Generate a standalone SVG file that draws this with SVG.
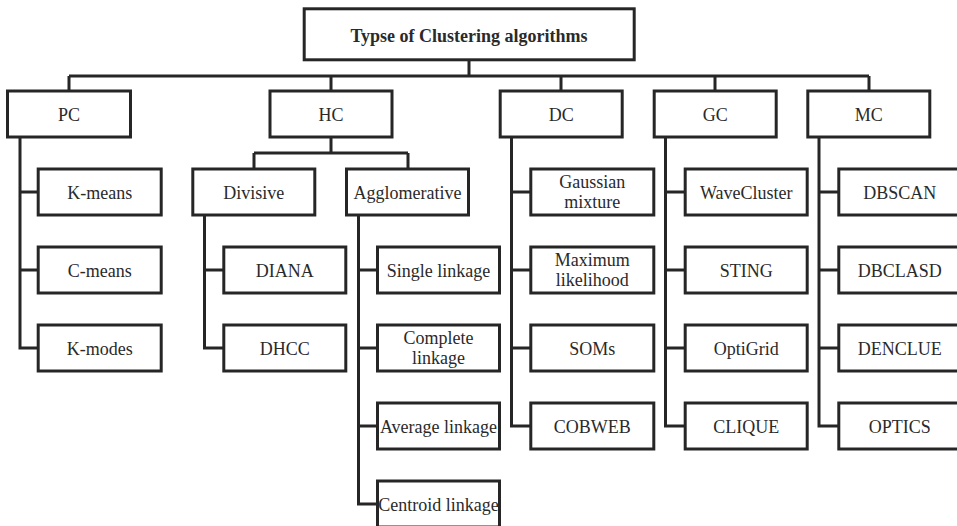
<svg xmlns="http://www.w3.org/2000/svg" width="957" height="526" viewBox="0 0 957 526">
<style>
.b{fill:#fff;stroke:#262626;stroke-width:3}
.c{fill:none;stroke:#262626;stroke-width:3}
text{font-family:"Liberation Serif","Times New Roman",serif;font-size:18px;fill:#2a2a2a;text-anchor:middle}
.t{font-weight:bold}
</style>
<rect width="957" height="526" fill="#fff"/>
<g id="connectors" class="c">
<path d="M469,61 V76 M69,76 H869 M69,76 V90 M331,76 V90 M561,76 V90 M715,76 V90 M869,76 V90"/>
<path d="M20,138 V348 H38 M20,192 H38 M20,270 H38"/>
<path d="M331,138 V153 M254,153 H408 M254,153 V169 M408,153 V169"/>
<path d="M204.5,216 V348 H224 M204.5,270 H224"/>
<path d="M358.5,216 V504 H378 M358.5,270 H378 M358.5,348 H378 M358.5,426 H378"/>
<path d="M511.5,138 V426 H531 M511.5,192 H531 M511.5,270 H531 M511.5,348 H531"/>
<path d="M665.5,138 V426 H685 M665.5,192 H685 M665.5,270 H685 M665.5,348 H685"/>
<path d="M819,138 V426 H839 M819,192 H839 M819,270 H839 M819,348 H839"/>
</g>
<g id="root"><rect class="b" x="304.2" y="8.8" width="330" height="51"/><text class="t" x="469" y="41.5">Typse of Clustering algorithms</text></g>
<g id="pc"><rect class="b" x="7.5" y="91" width="123" height="46"/><text x="69" y="120.5">PC</text></g>
<g id="hc"><rect class="b" x="270" y="91" width="122" height="46"/><text x="331" y="120.5">HC</text></g>
<g id="dc"><rect class="b" x="500.2" y="91" width="122" height="46"/><text x="561.2" y="120.5">DC</text></g>
<g id="gc"><rect class="b" x="654.2" y="91" width="122" height="46"/><text x="715.2" y="120.5">GC</text></g>
<g id="mc"><rect class="b" x="807.8" y="91" width="122" height="46"/><text x="868.8" y="120.5">MC</text></g>
<g id="kmeans"><rect class="b" x="38.2" y="169" width="123" height="46"/><text x="99.7" y="198.5">K-means</text></g>
<g id="cmeans"><rect class="b" x="38.2" y="247" width="123" height="46"/><text x="99.7" y="276.5">C-means</text></g>
<g id="kmodes"><rect class="b" x="38.2" y="325" width="123" height="46"/><text x="99.7" y="354.5">K-modes</text></g>
<g id="divisive"><rect class="b" x="192.8" y="169" width="122" height="46"/><text x="253.8" y="198.5">Divisive</text></g>
<g id="agglomerative"><rect class="b" x="346.5" y="169" width="122" height="46"/><text x="407.5" y="198.5">Agglomerative</text></g>
<g id="diana"><rect class="b" x="223.8" y="247" width="122" height="46"/><text x="284.8" y="276.5">DIANA</text></g>
<g id="dhcc"><rect class="b" x="223.8" y="325" width="122" height="46"/><text x="284.8" y="354.5">DHCC</text></g>
<g id="single"><rect class="b" x="377.5" y="247" width="122" height="46"/><text x="438.5" y="276.5">Single linkage</text></g>
<g id="complete"><rect class="b" x="377.5" y="325" width="122" height="46"/><text x="438.5" y="344">Complete</text><text x="438.5" y="363.5">linkage</text></g>
<g id="average"><rect class="b" x="377.5" y="403" width="122" height="46"/><text x="438.5" y="432.5">Average linkage</text></g>
<g id="centroid"><rect class="b" x="377.5" y="481" width="122" height="46"/><text x="438.5" y="510.5">Centroid linkage</text></g>
<g id="gaussian"><rect class="b" x="530.8" y="169" width="123" height="46"/><text x="592.3" y="188">Gaussian</text><text x="592.3" y="207.5">mixture</text></g>
<g id="maxlik"><rect class="b" x="530.8" y="247" width="123" height="46"/><text x="592.3" y="266">Maximum</text><text x="592.3" y="285.5">likelihood</text></g>
<g id="soms"><rect class="b" x="530.8" y="325" width="123" height="46"/><text x="592.3" y="354.5">SOMs</text></g>
<g id="cobweb"><rect class="b" x="530.8" y="403" width="123" height="46"/><text x="592.3" y="432.5">COBWEB</text></g>
<g id="wavecluster"><rect class="b" x="685.2" y="169" width="122" height="46"/><text x="746.2" y="198.5">WaveCluster</text></g>
<g id="sting"><rect class="b" x="685.2" y="247" width="122" height="46"/><text x="746.2" y="276.5">STING</text></g>
<g id="optigrid"><rect class="b" x="685.2" y="325" width="122" height="46"/><text x="746.2" y="354.5">OptiGrid</text></g>
<g id="clique"><rect class="b" x="685.2" y="403" width="122" height="46"/><text x="746.2" y="432.5">CLIQUE</text></g>
<g id="dbscan"><rect class="b" x="838.8" y="169" width="122" height="46"/><text x="899.8" y="198.5">DBSCAN</text></g>
<g id="dbclasd"><rect class="b" x="838.8" y="247" width="122" height="46"/><text x="899.8" y="276.5">DBCLASD</text></g>
<g id="denclue"><rect class="b" x="838.8" y="325" width="122" height="46"/><text x="899.8" y="354.5">DENCLUE</text></g>
<g id="optics"><rect class="b" x="838.8" y="403" width="122" height="46"/><text x="899.8" y="432.5">OPTICS</text></g>
</svg>
